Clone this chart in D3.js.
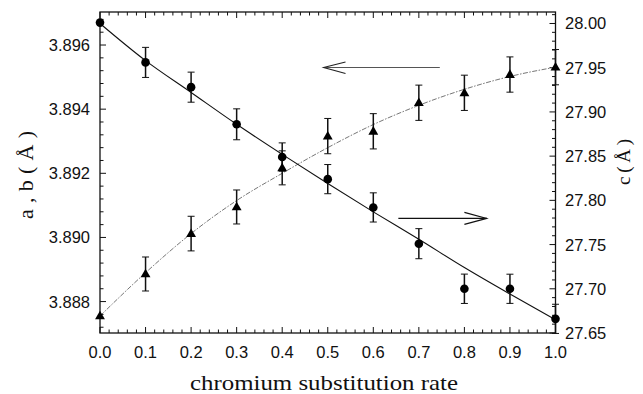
<!DOCTYPE html>
<html>
<head>
<meta charset="utf-8">
<script src="https://cdn.jsdelivr.net/npm/d3@7"></script>
<style>
  body { margin: 0; background: #fff; }
  svg { display: block; }
  .tick-lab { font-family: "Liberation Sans", Arial, sans-serif; font-size: 16.5px; fill: #111; }
  .ax-title { font-family: "Liberation Serif", "Times New Roman", serif; font-size: 22px; fill: #111; }
</style>
</head>
<body>
<div id="chartDiv"></div>
<script>
// chromium substitution rate
var rate = [0.0, 0.1, 0.2, 0.3, 0.4, 0.5, 0.6, 0.7, 0.8, 0.9, 1.0];
// c lattice parameter (right axis), circles
var cVal = [28.001, 27.956, 27.928, 27.886, 27.849, 27.824, 27.792, 27.751, 27.700, 27.700, 27.666];
var cErr = [0, 0.017, 0.017, 0.0175, 0.016, 0.0165, 0.0165, 0.017, 0.0166, 0.0165, 0.0165];
var cFit = [28.000, 27.958, 27.922, 27.886, 27.852, 27.819, 27.787, 27.756, 27.724, 27.694, 27.665];
// a,b lattice parameter (left axis), triangles
var abVal = [3.88755, 3.88886, 3.89012, 3.89095, 3.89217, 3.89316, 3.89331, 3.89420, 3.89451, 3.89508, 3.89531];
var abErr = [0, 0.00053, 0.00054, 0.00053, 0.00053, 0.00055, 0.00055, 0.00055, 0.00055, 0.00055, 0.00055];
var abFit = [3.88755, 3.88890, 3.89012, 3.89115, 3.89200, 3.89280, 3.89352, 3.89412, 3.89462, 3.89502, 3.89531];

var xTicks = [0.0, 0.1, 0.2, 0.3, 0.4, 0.5, 0.6, 0.7, 0.8, 0.9, 1.0];
var leftTicks = [3.888, 3.890, 3.892, 3.894, 3.896];
var rightTicks = [27.65, 27.70, 27.75, 27.80, 27.85, 27.90, 27.95, 28.00];

var W = 643, H = 394;
var L = 100, R = 555.5, T = 12, B = 333;

var svg = d3.select('#chartDiv').append('svg').attr('width', W).attr('height', H);

var x = d3.scaleLinear().domain([0, 1]).range([L, R]);
var yL = d3.scaleLinear().domain([3.88702, 3.89703]).range([B, T]);
var yR = d3.scaleLinear().domain([27.65, 28.013]).range([B, T]);

// minor + major ticks, all pointing inward
var xMinor = d3.range(0, 1.0001, 0.02);
var lMinor = d3.range(3.8872, 3.8970, 0.0004);
var rMinor = d3.range(27.65, 28.0101, 0.01);

var axes = svg.append('g').attr('stroke', '#111').attr('stroke-width', 1);
xMinor.forEach(function(v) {
	var major = Math.abs(v * 10 - Math.round(v * 10)) < 1e-6;
	var len = major ? 6 : 3.5;
	axes.append('line').attr('x1', x(v)).attr('x2', x(v)).attr('y1', B).attr('y2', B - len);
	axes.append('line').attr('x1', x(v)).attr('x2', x(v)).attr('y1', T).attr('y2', T + len);
});
lMinor.forEach(function(v) {
	var major = leftTicks.some(function(t) { return Math.abs(t - v) < 1e-6; });
	axes.append('line').attr('x1', L).attr('x2', L + (major ? 6 : 3.5)).attr('y1', yL(v)).attr('y2', yL(v));
});
rMinor.forEach(function(v) {
	var major = rightTicks.some(function(t) { return Math.abs(t - v) < 1e-6; });
	axes.append('line').attr('x1', R).attr('x2', R - (major ? 6 : 3.5)).attr('y1', yR(v)).attr('y2', yR(v));
});
svg.append('rect').attr('x', L).attr('y', T).attr('width', R - L).attr('height', B - T)
	.attr('fill', 'none').attr('stroke', '#111').attr('stroke-width', 1.3);

// tick labels
svg.selectAll('.xl').data(xTicks).enter().append('text').attr('class', 'tick-lab')
	.attr('x', function(d) { return x(d); }).attr('y', 358).attr('text-anchor', 'middle')
	.text(function(d) { return d3.format('.1f')(d); });
svg.selectAll('.ll').data(leftTicks).enter().append('text').attr('class', 'tick-lab')
	.attr('x', L - 10).attr('y', function(d) { return yL(d) + 6; }).attr('text-anchor', 'end')
	.text(function(d) { return d3.format('.3f')(d); });
svg.selectAll('.rl').data(rightTicks).enter().append('text').attr('class', 'tick-lab')
	.attr('x', R + 9.5).attr('y', function(d) { return yR(d) + 6; }).attr('text-anchor', 'start')
	.text(function(d) { return d3.format('.2f')(d); });

// axis titles
svg.append('text').attr('class', 'ax-title').attr('text-anchor', 'middle')
	.attr('transform', 'translate(33,175) rotate(-90)')
	.attr('textLength', 88).attr('lengthAdjust', 'spacing').text('a , b ( Å )');
svg.append('text').attr('class', 'ax-title').attr('text-anchor', 'middle')
	.style('font-size', '19px')
	.attr('transform', 'translate(630,162) rotate(-90)')
	.text('c\u2009(\u2009Å\u2009)');
svg.append('text').attr('class', 'ax-title').attr('text-anchor', 'middle')
	.attr('x', 324).attr('y', 390)
	.attr('textLength', 268).attr('lengthAdjust', 'spacingAndGlyphs').text('chromium substitution rate');

// fit lines
var lineC = d3.line().x(function(d, i) { return x(rate[i]); }).y(function(d) { return yR(d); }).curve(d3.curveMonotoneX);
var lineAB = d3.line().x(function(d, i) { return x(rate[i]); }).y(function(d) { return yL(d); }).curve(d3.curveMonotoneX);
svg.append('path').attr('d', lineAB(abFit)).attr('fill', 'none').attr('stroke', '#666')
	.attr('stroke-width', 0.9).attr('stroke-dasharray', '5,1.5,1.5,1.5');
svg.append('path').attr('d', lineC(cFit)).attr('fill', 'none').attr('stroke', '#111').attr('stroke-width', 1.1);

// error bars
function errBars(vals, errs, y) {
	var g = svg.append('g').attr('stroke', '#111');
	vals.forEach(function(v, i) {
		if (!errs[i]) return;
		var cx = x(rate[i]), y1 = y(v + errs[i]), y2 = y(v - errs[i]);
		g.append('line').attr('x1', cx).attr('x2', cx).attr('y1', y1).attr('y2', y2).attr('stroke-width', 1.5);
		g.append('line').attr('x1', cx - 3.5).attr('x2', cx + 3.5).attr('y1', y1).attr('y2', y1).attr('stroke-width', 1);
		g.append('line').attr('x1', cx - 3.5).attr('x2', cx + 3.5).attr('y1', y2).attr('y2', y2).attr('stroke-width', 1);
	});
}
errBars(abVal, abErr, yL);
errBars(cVal, cErr, yR);

// markers
svg.selectAll('.circ').data(cVal).enter().append('circle')
	.attr('cx', function(d, i) { return x(rate[i]); }).attr('cy', function(d) { return yR(d); })
	.attr('r', 4.3).attr('fill', '#000');
var tri = d3.symbol().type(d3.symbolTriangle).size(42);
svg.selectAll('.tri').data(abVal).enter().append('path').attr('d', tri)
	.attr('transform', function(d, i) { return 'translate(' + x(rate[i]) + ',' + (yL(d) + 0.5) + ')'; })
	.attr('fill', '#000');

// arrows: left one points to a,b axis, right one to c axis
var arr = svg.append('g').attr('fill', 'none');
var ly = yL(3.8953);
arr.append('line').attr('x1', x(0.491)).attr('x2', x(0.746)).attr('y1', ly).attr('y2', ly).attr('stroke', '#555').attr('stroke-width', 1.1);
arr.append('polyline').attr('points', [[x(0.539), ly - 5.5], [x(0.491), ly], [x(0.539), ly + 6]].join(' '))
	.attr('stroke', '#222').attr('stroke-width', 1.1);
var ry = yR(27.7796);
arr.append('line').attr('x1', x(0.655)).attr('x2', x(0.849)).attr('y1', ry).attr('y2', ry).attr('stroke', '#111').attr('stroke-width', 1.2);
arr.append('polyline').attr('points', [[x(0.800), ry - 6], [x(0.849), ry], [x(0.800), ry + 6]].join(' '))
	.attr('stroke', '#111').attr('stroke-width', 1.1);
</script>
</body>
</html>
